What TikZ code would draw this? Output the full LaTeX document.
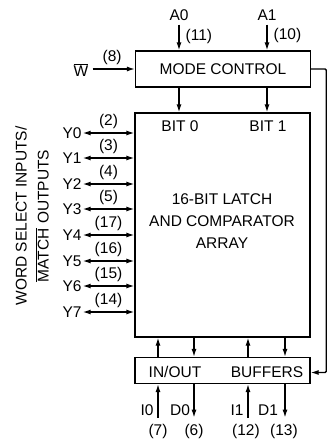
\documentclass[tikz,border=0pt]{standalone}
\usepackage{fontspec}
\setmainfont{Liberation Sans}
\usetikzlibrary{arrows.meta,positioning}
\newcommand{\ovl}[1]{$\overline{\hbox{#1}}$}

\begin{document}
\begin{tikzpicture}[x=1pt, y=-1pt,
  every node/.style={font=\fontsize{15.5}{22}\selectfont, inner sep=1pt},
  block/.style={draw, line width=1.3pt, minimum width=175pt, inner sep=0pt},
  num/.style={above=3pt},
  arrow/.style={-{Latex[length=8pt,width=5pt]}, line width=1.3pt},
  biarrow/.style={{Latex[length=8pt,width=5pt]}-{Latex[length=8pt,width=5pt]}, line width=1.3pt}
]
  \useasboundingbox (0,0) rectangle (331,440);

  \node[block, minimum height=36pt] (mode) at (223,69) {MODE CONTROL};
  \node[block, minimum height=224pt] (array) at (222.5,225) {};
  \node[align=center] (arraytext) at (222,221) {16-BIT LATCH\\AND COMPARATOR\\ARRAY};
  \node (bit0) at (180,126) {BIT 0};
  \node (bit1) at (268,126) {BIT 1};
  \node[block, minimum height=26pt] (buffers) at (222.5,370.5) {};
  \node (inout) at (175,372) {IN/OUT};
  \node (bufs) at (267,372) {BUFFERS};

  % inputs on top
  \node (a0) at (179,15) {A0};
  \node (a1) at (267,15) {A1};
  \draw[arrow, shorten <=3pt] (a0) -- (a0 |- mode.north) node[midway, right=5pt] {(11)};
  \draw[arrow, shorten <=3pt] (a1) -- (a1 |- mode.north) node[midway, right=5pt] {(10)};
  \node (wbar) at (81,70) {\ovl{W}};
  \draw[arrow, shorten <=3pt] (wbar.east |- mode.west) -- (mode.west) node[midway, num] {(8)};

  \draw[arrow] (mode.south -| a0) -- (array.north -| a0);
  \draw[arrow] (mode.south -| a1) -- (array.north -| a1);
  \draw[arrow, rounded corners=1pt] (mode.east) -- ++(15,0) |- ([yshift=-2pt]buffers.east);

  % word select / match lines
  \node (y0) at (72,133) {Y0};
  \node (y1) at (72,158) {Y1};
  \node (y2) at (72,184) {Y2};
  \node (y3) at (72,209) {Y3};
  \node (y4) at (72,235) {Y4};
  \node (y5) at (72,261) {Y5};
  \node (y6) at (72,286) {Y6};
  \node (y7) at (72,312) {Y7};
  \draw[biarrow] (y0) -- (y0 -| array.west) node[midway, num] {(2)};
  \draw[biarrow] (y1) -- (y1 -| array.west) node[midway, num] {(3)};
  \draw[biarrow] (y2) -- (y2 -| array.west) node[midway, num] {(4)};
  \draw[biarrow] (y3) -- (y3 -| array.west) node[midway, num] {(5)};
  \draw[biarrow] (y4) -- (y4 -| array.west) node[midway, num] {(17)};
  \draw[biarrow] (y5) -- (y5 -| array.west) node[midway, num] {(16)};
  \draw[biarrow] (y6) -- (y6 -| array.west) node[midway, num] {(15)};
  \draw[biarrow] (y7) -- (y7 -| array.west) node[midway, num] {(14)};
  \node[rotate=90, align=center] (side) at (32,216)
    {WORD SELECT INPUTS/\\\ovl{MATCH} OUTPUTS};

  % latch <-> buffers
  \coordinate (c0) at (158,0);
  \coordinate (c1) at (194,0);
  \coordinate (c2) at (248,0);
  \coordinate (c3) at (285,0);
  \draw[arrow] (buffers.north -| c0) -- (array.south -| c0);
  \draw[arrow] (array.south -| c1) -- (buffers.north -| c1);
  \draw[arrow] (buffers.north -| c2) -- (array.south -| c2);
  \draw[arrow] (array.south -| c3) -- (buffers.north -| c3);

  % data pins
  \node (p7) at (158,431) {(7)};
  \node (p6) at (194,431) {(6)};
  \node (p12) at (246,431) {(12)};
  \node (p13) at (284,431) {(13)};
  \node (i0) at (147,410) {I0};
  \node (d0) at (180,410) {D0};
  \node (i1) at (237,410) {I1};
  \node (d1) at (268,410) {D1};
  \draw[arrow, shorten <=5pt] (p7.north -| c0) -- (buffers.south -| c0);
  \draw[arrow, shorten >=5pt] (buffers.south -| c1) -- (p6.north -| c1);
  \draw[arrow, shorten <=5pt] (p12.north -| c2) -- (buffers.south -| c2);
  \draw[arrow, shorten >=5pt] (buffers.south -| c3) -- (p13.north -| c3);
\end{tikzpicture}
\end{document}
